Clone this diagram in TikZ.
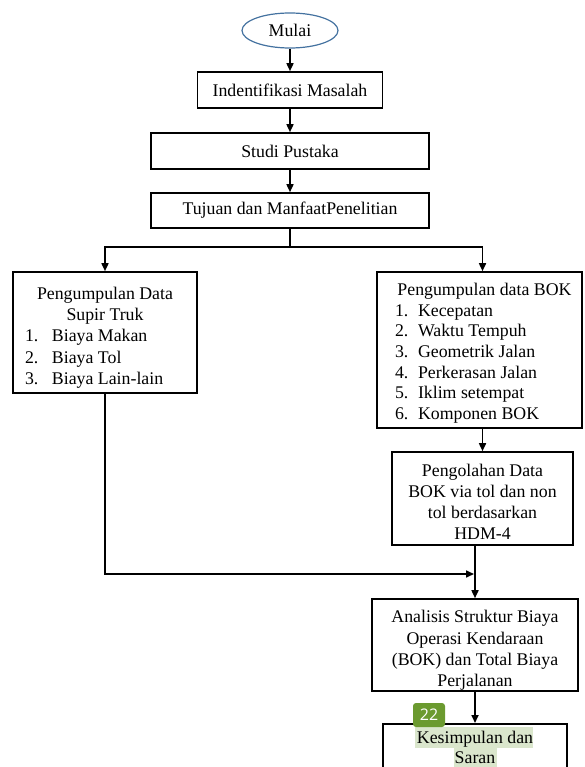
\documentclass[tikz,border=0pt]{standalone}
\usepackage{fontspec}
\setmainfont{Liberation Serif}
\newfontfamily\badgefont{Open Sans}
\usetikzlibrary{arrows.meta,shapes.geometric}
\definecolor{startblue}{RGB}{68,114,160}
\definecolor{badgegreen}{RGB}{107,154,47}
\definecolor{hlgreen}{RGB}{218,230,204}
\begin{document}
\begin{tikzpicture}[x=1pt,y=-1pt,
  every node/.style={font=\fontsize{17.8}{21}\selectfont},
  box/.style={draw, line width=1.6pt, inner sep=0pt, align=center},
  arr/.style={line width=1.6pt, -{Triangle[length=8pt,width=7pt]}},
  ln/.style={line width=1.6pt}]
\useasboundingbox (0,0) rectangle (584,767);
\clip (0,0) rectangle (584,767);

\node[ellipse, draw=startblue, line width=1.2pt, minimum width=96, minimum height=35, inner sep=0pt] (mulai) at (290,30.5) {Mulai};
\node[box, minimum width=185, minimum height=36] (idm) at (290,90) {Indentifikasi Masalah};
\node[box, minimum width=278, minimum height=36] (sp) at (290,151) {Studi Pustaka};
\node[box, minimum width=278, minimum height=35] (tj) at (290,210.5) {Tujuan dan ManfaatPenelitian};

\node[box, minimum width=184, minimum height=121, text width=174, align=flush left,
      font=\fontsize{17.8}{21.3}\selectfont] (L) at (105,332.5)
 {\par\vspace*{1pt}{\centering Pengumpulan Data\\Supir Truk\par}
  \hspace*{7pt}\makebox[27pt][l]{1.}Biaya Makan\par
  \hspace*{7pt}\makebox[27pt][l]{2.}Biaya Tol\par
  \hspace*{7pt}\makebox[27pt][l]{3.}Biaya Lain-lain\par};

\node[box, minimum width=205, minimum height=156, text width=195, align=flush left,
      font=\fontsize{17.8}{20.7}\selectfont] (R) at (479.5,350)
 {\par\vspace*{-2pt}{\centering\hspace*{10pt}Pengumpulan data BOK\par}
  \hspace*{13pt}\makebox[23pt][l]{1.}Kecepatan\par
  \hspace*{13pt}\makebox[23pt][l]{2.}Waktu Tempuh\par
  \hspace*{13pt}\makebox[23pt][l]{3.}Geometrik Jalan\par
  \hspace*{13pt}\makebox[23pt][l]{4.}Perkerasan Jalan\par
  \hspace*{13pt}\makebox[23pt][l]{5.}Iklim setempat\par
  \hspace*{13pt}\makebox[23pt][l]{6.}Komponen BOK\par};

\node[box, minimum width=181, minimum height=93, text width=175, align=flush center] (P) at (482.5,498.5)
 {\par\vspace*{-2pt}Pengolahan Data\\BOK via tol dan non\\tol berdasarkan\\HDM-4\par};

\node[box, minimum width=206, minimum height=92, text width=200, align=flush center,
      font=\fontsize{17.8}{21.3}\selectfont] (A) at (475,645)
 {\par\vspace*{2pt}Analisis Struktur Biaya\\Operasi Kendaraan\\(BOK) dan Total Biaya\\Perjalanan\par};

\fill[hlgreen] (415,727) rectangle (533,748);
\fill[hlgreen] (454,748) rectangle (497,767);
\node[box, anchor=north, minimum width=184, minimum height=80] (K) at (475,723) {};
\node[font=\fontsize{17.8}{20}\selectfont, align=center] (Ktext) at (475,747) {Kesimpulan dan\\Saran};

\node[fill=badgegreen, rounded corners=3pt, text=white, font=\badgefont\fontsize{16}{16}\selectfont,
      minimum width=32, minimum height=24, inner sep=0pt] (badge) at (429,715) {22};

% connectors
\draw[arr] (mulai) -- (idm);
\draw[arr] (idm) -- (sp);
\draw[arr] (sp) -- (tj);
\coordinate (split) at (290,247);
\draw[ln] (tj.south) -- (split);
\draw[arr] (split) -| (L.north);
\draw[arr] (split) -| (P.north |- R.north);
\draw[arr] (P.north |- R.south) -- (P.north);
\draw[arr] (A.north |- P.south) -- (A.north);
\coordinate (merge) at (474,574);
\draw[arr] (L.south) |- (merge);
\draw[arr] (A) -- (K);
\end{tikzpicture}
\end{document}
